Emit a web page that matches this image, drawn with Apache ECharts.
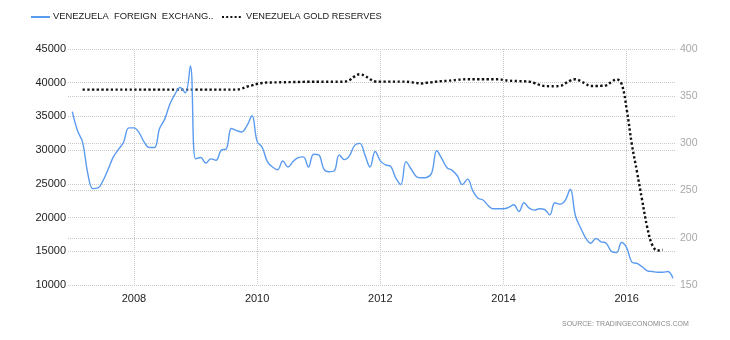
<!DOCTYPE html>
<html>
<head>
<meta charset="utf-8">
<script src="https://cdn.jsdelivr.net/npm/echarts@6/dist/echarts.min.js"></script>
<style>
  html, body { margin: 0; padding: 0; background: #fff; }
  #chart { width: 730px; height: 340px; }
</style>
</head>
<body>
<div id="chart"></div>
<script>
// Monthly series, first value is January of firstYear
const firstYear = 2007;

// Foreign exchange reserves, USD million (left axis)
const fxReserves = [
  /* 2007 */ 35700, 32900, 31200, 26600, 24300, 24400, 25500, 27200, 29000, 30100, 31200, 33300,
  /* 2008 */ 33300, 32600, 31200, 30400, 30400, 33200, 34600, 36800, 38300, 39300, 38500, 42500,
  /* 2009 */ 28700, 28900, 28100, 28700, 28500, 30000, 30200, 33200, 32900, 32700, 33600, 35100,
  /* 2010 */ 31300, 30400, 28300, 27500, 27100, 28400, 27500, 28300, 28900, 29000, 27500, 29400,
  /* 2011 */ 29300, 27200, 26800, 26900, 29300, 28600, 29200, 30700, 31000, 29300, 27500, 29800,
  /* 2012 */ 28400, 27800, 27600, 25900, 24900, 28300, 27200, 26100, 25900, 25950, 26600, 29900,
  /* 2013 */ 28700, 27400, 27000, 26200, 24900, 25700, 24000, 22900, 22600, 21800, 21300, 21300,
  /* 2014 */ 21300, 21500, 21900, 20900, 22200, 21400, 21100, 21300, 21200, 20400, 22200, 22000,
  /* 2015 */ 22500, 24200, 20300, 18500, 17000, 16200, 16900, 16400, 16200, 15000, 14800, 16300,
  /* 2016 */ 15500, 13400, 13200, 12700, 12100, 12000, 11900, 11900, 12000, 11000
];

// Gold reserves, tonnes (right axis)
const goldReserves = [
  /* 2007 */ null, null, 357, 357, 357, 357, 357, 357, 357, 357, 357, 357,
  /* 2008 */ 357, 357, 357, 357, 357, 357, 357, 357, 357, 357, 357, 357,
  /* 2009 */ 357, 357, 357, 357, 357, 357, 357, 357, 357, 358, 360, 361.5,
  /* 2010 */ 363, 364, 364.5, 364.6, 364.7, 364.8, 364.9, 365, 365.1, 365.2, 365.3, 365.3,
  /* 2011 */ 365.3, 365.3, 365.3, 365.3, 365.3, 365.4, 367, 371, 373.2, 371.5, 368, 365.6,
  /* 2012 */ 365.4, 365.4, 365.4, 365.4, 365.4, 365.4, 364.8, 364, 363.5, 364.2, 364.8, 365.5,
  /* 2013 */ 366, 366.3, 366.8, 367.3, 367.8, 368, 368, 368, 368, 368, 368, 368,
  /* 2014 */ 367.2, 366.5, 366.2, 366, 365.8, 365.5, 364, 362, 360.8, 360.6, 360.6, 360.8,
  /* 2015 */ 363.5, 366.5, 367.9, 366, 363, 360.8, 360.8, 361, 361.5, 365, 367.9, 363,
  /* 2016 */ 336, 299, 270, 240, 211, 192, 186.5, 187.5
];

const fxName = 'VENEZUELA  FOREIGN  EXCHANG..';
const goldName = 'VENEZUELA GOLD RESERVES';

const fxColor = '#5b9bef';
const goldColor = '#111';
const goldDash = [2.3, 2.4];

// Month index -> fractional year on the x axis
const toPairs = (values) => values.map((v, i) => [firstYear + i / 12, v]);

const chart = echarts.init(document.getElementById('chart'), null, { renderer: 'canvas' });

const font = '"Liberation Sans", Arial, sans-serif';
const gridLine = { type: 'dotted', color: '#c8c8c8', width: 1 };

chart.setOption({
  animation: false,
  textStyle: { fontFamily: font },
  grid: { left: 68, right: 54, top: 49, bottom: 55 },
  xAxis: {
    type: 'value',
    min: 2006.93,
    max: 2016.8,
    splitNumber: 5,
    axisLine: { show: false },
    axisTick: { show: false },
    axisLabel: {
      margin: 8,
      color: '#222',
      fontSize: 11,
      showMinLabel: false,
      showMaxLabel: false,
      formatter: (v) => (Number.isInteger(v) ? String(v) : '')
    },
    splitLine: { show: true, showMinLine: false, showMaxLine: false, lineStyle: gridLine }
  },
  yAxis: [
    {
      type: 'value',
      position: 'left',
      min: 10000,
      max: 45000,
      interval: 5000,
      axisLine: { show: false },
      axisTick: { show: false },
      axisLabel: { margin: 2, color: '#222', fontSize: 11, formatter: (v) => String(v) },
      splitLine: { show: true, lineStyle: gridLine }
    },
    {
      type: 'value',
      position: 'right',
      min: 150,
      max: 400,
      interval: 50,
      axisLine: { show: false },
      axisTick: { show: false },
      axisLabel: { margin: 4, color: '#a8a8a8', fontSize: 10.5, formatter: (v) => String(v) },
      splitLine: { show: true, lineStyle: gridLine }
    }
  ],
  series: [
    {
      name: fxName,
      type: 'line',
      yAxisIndex: 0,
      data: toPairs(fxReserves),
      smooth: 0.4,
      showSymbol: false,
      symbol: 'none',
      lineStyle: { color: fxColor, width: 1.4 },
      z: 3
    },
    {
      name: goldName,
      type: 'line',
      yAxisIndex: 1,
      data: toPairs(goldReserves),
      smooth: 0.4,
      showSymbol: false,
      symbol: 'none',
      lineStyle: { color: goldColor, width: 2.4, type: goldDash },
      z: 2
    }
  ],
  graphic: [
    // legend keys and labels
    {
      type: 'line',
      shape: { x1: 31, y1: 17, x2: 50, y2: 17 },
      style: { stroke: fxColor, lineWidth: 2 }
    },
    {
      type: 'text',
      left: 53,
      top: 12,
      style: { text: fxName, fill: '#1a1a1a', font: '9.4px ' + font }
    },
    {
      type: 'line',
      shape: { x1: 222, y1: 17, x2: 243, y2: 17 },
      style: { stroke: goldColor, lineWidth: 2, lineDash: [2, 2.2] }
    },
    {
      type: 'text',
      left: 246,
      top: 12,
      style: { text: goldName, fill: '#1a1a1a', font: '9.2px ' + font }
    },
    {
      type: 'text',
      left: 562,
      top: 321,
      style: {
        text: 'SOURCE: TRADINGECONOMICS.COM',
        fill: '#8a8a8a',
        font: '7px ' + font
      }
    }
  ]
});
</script>
</body>
</html>
